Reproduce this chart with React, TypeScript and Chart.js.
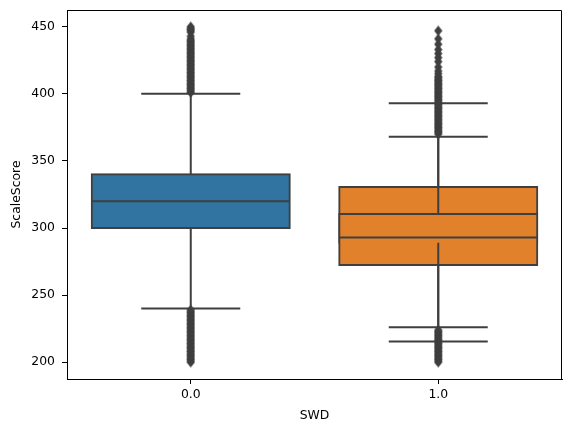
import { useEffect, useRef } from 'react';
import { Chart, registerables } from 'chart.js';

Chart.register(...registerables);

// ---- data ----
const categories = ['0.0', '1.0'];
const yTicks = [200, 250, 300, 350, 400, 450];
const boxColors = ['#3274a1', '#e1812c'];

// box layer A (drawn underneath)
const boxAPos = [0, 1];
const boxAQ1 = [300, 289];
const boxAMed = [320, 293];
const boxAQ3 = [340, 310.5];
const boxALo = [240, 215.5];
const boxAHi = [400, 368];

// box layer B (drawn on top, second category only)
const boxBPos = [1];
const boxBQ1 = [272.5];
const boxBMed = [310.5];
const boxBQ3 = [330.5];
const boxBLo = [226];
const boxBHi = [393];

// outliers
const fliers0 = [
  200, 201, 202, 203, 204, 205, 206, 207, 208, 209, 210, 211, 212, 213, 214, 215, 216, 217, 218, 219,
  220, 221, 222, 223, 224, 225, 226, 227, 228, 229, 230, 231, 232, 233, 234, 235, 236, 237, 238, 239,
  401, 402, 403, 404, 405, 406, 407, 408, 409, 410, 411, 412, 413, 414, 415, 416, 417, 418, 419, 420,
  421, 422, 423, 424, 425, 426, 427, 428, 429, 430, 431, 432, 433, 434, 435, 436, 437, 438, 439, 440,
  441, 443, 446, 447, 448, 449, 450,
];
const fliers1 = [
  200, 201, 202, 203, 204, 205, 206, 207, 208, 209, 210, 211, 212, 213, 214, 215, 216, 217, 218, 219,
  220, 221, 222, 223, 224,
  370, 371, 372, 373, 374, 375, 376, 377, 378, 379, 380, 381, 382, 383, 384, 385, 386, 387, 388, 389,
  390, 391, 392, 393, 394, 395, 396, 397, 398, 399, 400, 401, 402, 403, 404, 405, 406, 407, 408, 409,
  410, 411, 412, 413, 415, 417, 420, 424, 427, 430, 433, 437, 441, 447,
];

// ---- style ----
const lineColor = '#3f3f3f';
const boxWidth = 0.8;
const capWidth = 0.4;
const font = { family: "'DejaVu Sans', sans-serif", size: 12.4 };

type P = { x: number; y: number | null };

function whiskerPts(pos: number[], q1: number[], q3: number[], lo: number[], hi: number[]): P[] {
  const pts: P[] = [];
  pos.forEach((p, i) => {
    pts.push({ x: p, y: q3[i] }, { x: p, y: hi[i] }, { x: p, y: null });
    pts.push({ x: p, y: q1[i] }, { x: p, y: lo[i] }, { x: p, y: null });
  });
  return pts;
}
function hSegPts(pos: number[], vals: number[], w: number): P[] {
  const pts: P[] = [];
  pos.forEach((p, i) => {
    pts.push({ x: p - w / 2, y: vals[i] }, { x: p + w / 2, y: vals[i] }, { x: p, y: null });
  });
  return pts;
}

function makeDiamond(): HTMLCanvasElement {
  const c = document.createElement('canvas');
  c.width = 9;
  c.height = 11;
  const g = c.getContext('2d')!;
  g.fillStyle = lineColor;
  g.beginPath();
  g.moveTo(4.5, 0.2);
  g.lineTo(8.6, 5.5);
  g.lineTo(4.5, 10.8);
  g.lineTo(0.4, 5.5);
  g.closePath();
  g.fill();
  return c;
}

const framePlugin = {
  id: 'frame',
  afterDatasetsDraw(chart: any) {
    const { ctx, chartArea } = chart;
    ctx.save();
    ctx.strokeStyle = '#000';
    ctx.lineWidth = 1;
    ctx.beginPath();
    ctx.moveTo(Math.round(chartArea.left) + 0.5, Math.round(chartArea.top) + 0.5);
    ctx.lineTo(Math.round(chartArea.right) - 0.5, Math.round(chartArea.top) + 0.5);
    ctx.lineTo(Math.round(chartArea.right) - 0.5, Math.round(chartArea.bottom) + 0.5);
    ctx.stroke();
    ctx.restore();
  },
};

export default function App() {
  const ref = useRef<HTMLCanvasElement>(null);
  useEffect(() => {
    if (!ref.current) return;
    const diamond = makeDiamond();
    const lineDs = (data: P[], order: number) => ({
      type: 'line' as const,
      data,
      borderColor: lineColor,
      borderWidth: 2,
      pointRadius: 0,
      spanGaps: false,
      fill: false,
      order,
    });
    const chart = new Chart(ref.current, {
      type: 'bar',
      data: {
        datasets: [
          {
            type: 'bar',
            data: boxAPos.map((p, i) => ({ x: p, y: [boxAQ1[i], boxAQ3[i]] })) as any,
            backgroundColor: boxAPos.map((p) => boxColors[p]),
            borderColor: lineColor,
            borderWidth: 2,
            borderSkipped: false,
            inflateAmount: 1,
            barPercentage: 1,
            categoryPercentage: boxWidth,
            grouped: false,
            order: 20,
          } as any,
          {
            type: 'bar',
            data: boxBPos.map((p, i) => ({ x: p, y: [boxBQ1[i], boxBQ3[i]] })) as any,
            backgroundColor: boxBPos.map((p) => boxColors[p]),
            borderColor: lineColor,
            borderWidth: 2,
            borderSkipped: false,
            inflateAmount: 1,
            barPercentage: 1,
            categoryPercentage: boxWidth,
            grouped: false,
            order: 19,
          } as any,
          lineDs(whiskerPts(boxAPos, boxAQ1, boxAQ3, boxALo, boxAHi), 10) as any,
          lineDs(whiskerPts(boxBPos, boxBQ1, boxBQ3, boxBLo, boxBHi), 9) as any,
          lineDs([...hSegPts(boxAPos, boxAHi, capWidth), ...hSegPts(boxAPos, boxALo, capWidth)], 8) as any,
          lineDs([...hSegPts(boxBPos, boxBHi, capWidth), ...hSegPts(boxBPos, boxBLo, capWidth)], 7) as any,
          lineDs(hSegPts(boxAPos, boxAMed, boxWidth), 6) as any,
          lineDs(hSegPts(boxBPos, boxBMed, boxWidth), 5) as any,
          {
            type: 'scatter',
            data: [
              ...fliers0.map((v) => ({ x: 0, y: v })),
              ...fliers1.map((v) => ({ x: 1, y: v })),
            ],
            pointStyle: diamond,
            pointRadius: 5,
            showLine: false,
            order: 1,
          } as any,
        ],
      },
      options: {
        animation: false,
        responsive: true,
        maintainAspectRatio: false,
        layout: { padding: { left: 0, right: 9, top: 10, bottom: 0 } },
        plugins: { legend: { display: false }, tooltip: { enabled: false } },
        scales: {
          x: {
            type: 'linear',
            min: -0.5,
            max: 1.5,
            offset: false,
            afterBuildTicks: (axis: any) => {
              axis.ticks = categories.map((_, i) => ({ value: i }));
            },
            afterFit: (axis: any) => {
              axis.height = 53;
              axis.paddingLeft = 0;
              axis.paddingRight = 0;
            },
            ticks: {
              callback: (v: any) => categories[Number(v)] ?? '',
              font,
              color: '#000',
              padding: 3.5,
              maxRotation: 0,
              autoSkip: false,
            },
            grid: {
              display: true,
              offset: false,
              drawOnChartArea: false,
              drawTicks: true,
              tickLength: 5,
              tickColor: '#000',
              tickWidth: 1,
            },
            border: { display: true, color: '#000', width: 1 },
            title: { display: true, text: 'SWD', font, color: '#000', padding: { top: 0, bottom: 8.5 } },
          },
          y: {
            type: 'linear',
            min: 187.5,
            max: 462.5,
            afterBuildTicks: (axis: any) => {
              axis.ticks = yTicks.map((v) => ({ value: v }));
            },
            afterFit: (axis: any) => {
              axis.width = 67;
              axis.paddingTop = 0;
              axis.paddingBottom = 0;
            },
            ticks: { font, color: '#000', padding: 7 },
            grid: {
              display: true,
              drawOnChartArea: false,
              drawTicks: true,
              tickLength: 5,
              tickColor: '#000',
              tickWidth: 1,
            },
            border: { display: true, color: '#000', width: 1 },
            title: {
              display: true,
              text: 'ScaleScore',
              font,
              color: '#000',
              padding: { top: 9.5, bottom: 0 },
            },
          },
        },
      },
      plugins: [framePlugin],
    });
    return () => chart.destroy();
  }, []);
  return (
    <div style={{ position: 'absolute', left: 0, top: 0, width: 571, height: 432, background: '#fff' }}>
      <canvas ref={ref} />
    </div>
  );
}
